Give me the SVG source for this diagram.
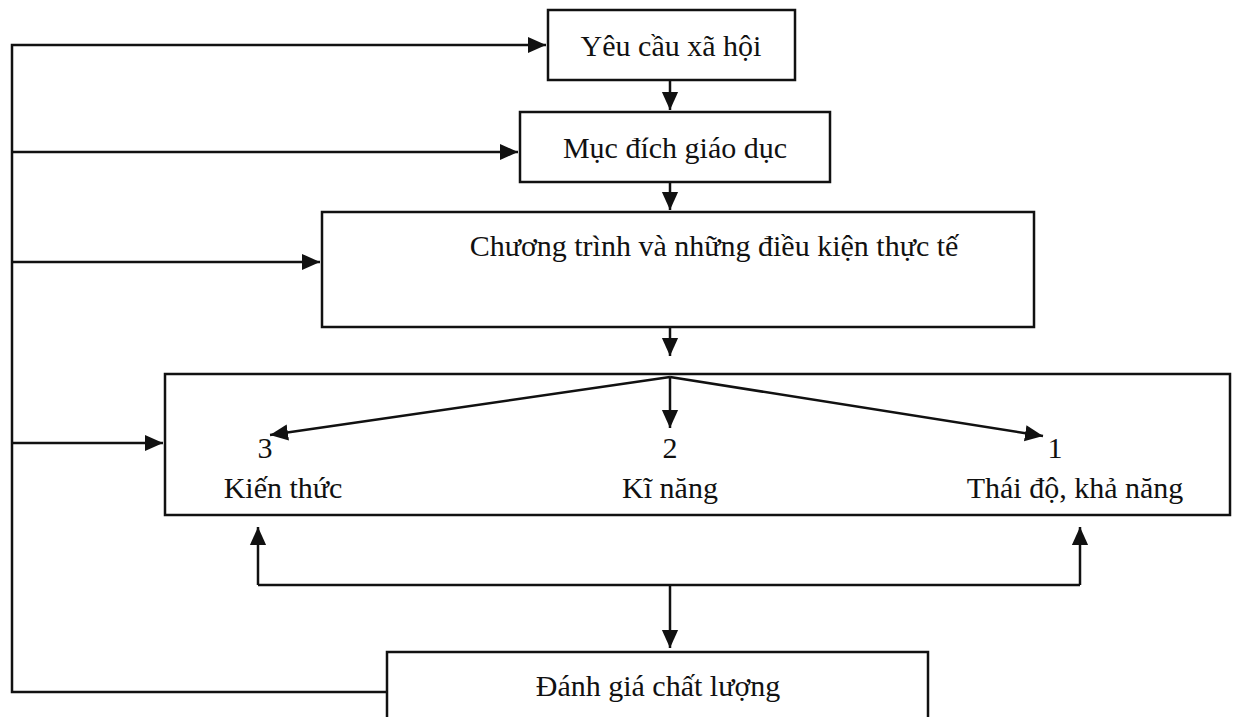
<svg xmlns="http://www.w3.org/2000/svg" width="1245" height="717" viewBox="0 0 1245 717">
<style>
.box{fill:#fff;stroke:#111;stroke-width:2.5}
.ln{fill:none;stroke:#111;stroke-width:2.5}
.t{font-family:"Liberation Serif","DejaVu Serif",serif;font-size:30px;fill:#111;text-anchor:middle}
</style>
<defs>
<marker id="ahb" viewBox="0 0 10 10" refX="10" refY="5" markerWidth="18" markerHeight="18" markerUnits="userSpaceOnUse" orient="auto">
<path d="M0,0.5 L10,5 L0,9.5 Z" fill="#111"/>
</marker>
</defs>
<rect width="1245" height="717" fill="#fff"/>
<g id="n1"><rect class="box" x="548" y="10" width="247" height="70"/><text class="t" x="671" y="56">Yêu cầu xã hội</text></g>
<g id="n2"><rect class="box" x="520" y="112" width="310" height="70"/><text class="t" x="675" y="158">Mục đích giáo dục</text></g>
<g id="n3"><rect class="box" x="322" y="212" width="712" height="115"/><text class="t" x="714" y="256">Chương trình và những điều kiện thực tế</text></g>
<g id="n4"><rect class="box" x="165" y="374" width="1065" height="141"/>
<text class="t" x="265" y="458">3</text><text class="t" x="670" y="458">2</text><text class="t" x="1055" y="458">1</text>
<text class="t" x="283" y="498">Kiến thức</text><text class="t" x="670" y="498">Kĩ năng</text><text class="t" x="1075" y="498">Thái độ, khả năng</text></g>
<g id="n5"><rect class="box" x="387" y="652" width="541" height="80"/><text class="t" x="658" y="696">Đánh giá chất lượng</text></g>
<g id="connectors">
<path class="ln" d="M387,692 H12 V45 H546" marker-end="url(#ahb)"/>
<path class="ln" d="M12,152 H518" marker-end="url(#ahb)"/>
<path class="ln" d="M12,262 H320" marker-end="url(#ahb)"/>
<path class="ln" d="M12,443 H163" marker-end="url(#ahb)"/>
<path class="ln" d="M670,80 V110" marker-end="url(#ahb)"/>
<path class="ln" d="M670,182 V210" marker-end="url(#ahb)"/>
<path class="ln" d="M670,327 V356" marker-end="url(#ahb)"/>
<path class="ln" d="M670,377 L270,435" marker-end="url(#ahb)"/>
<path class="ln" d="M670,377 V428" marker-end="url(#ahb)"/>
<path class="ln" d="M670,377 L1043,436" marker-end="url(#ahb)"/>
<path class="ln" d="M258,585 V527" marker-end="url(#ahb)"/>
<path class="ln" d="M1080,585 V527" marker-end="url(#ahb)"/>
<path class="ln" d="M258,585 H1080"/>
<path class="ln" d="M670,585 V648" marker-end="url(#ahb)"/>
</g>
</svg>
